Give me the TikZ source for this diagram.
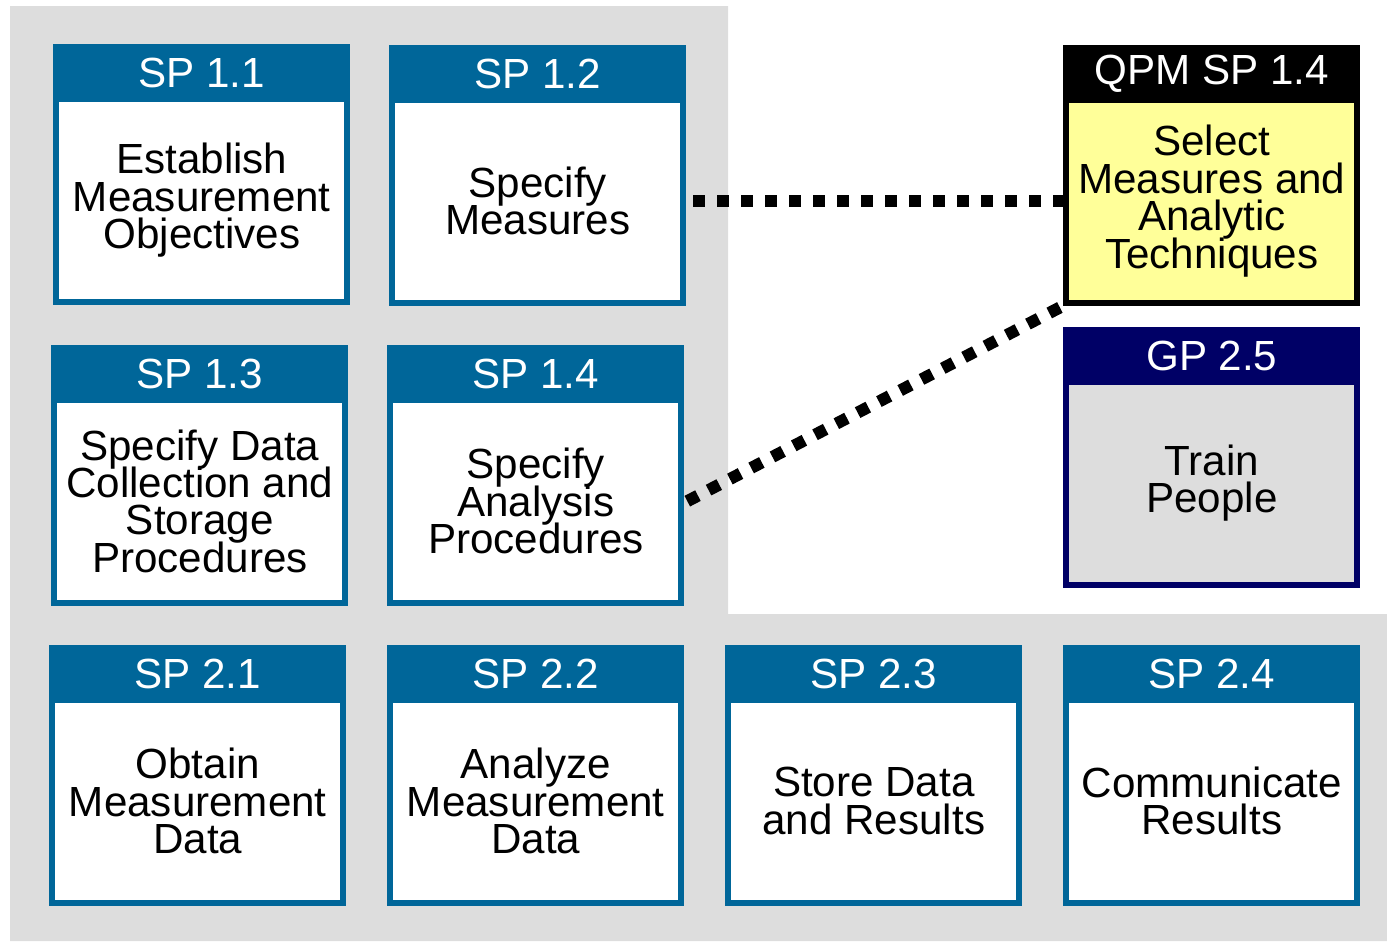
\documentclass[tikz,border=0pt]{standalone}
\usepackage{fontspec}
\setmainfont{Liberation Sans}
\usetikzlibrary{positioning,calc}
\definecolor{spblue}{RGB}{0,102,153}
\definecolor{gpnavy}{RGB}{0,0,102}
\definecolor{bggray}{RGB}{221,221,221}
\definecolor{qpmyellow}{RGB}{255,255,153}
\newcommand{\boxfont}{\fontsize{24}{21.3}\selectfont\lineskiplimit=-20pt\relax}
\tikzset{
	head/.style={anchor=north west, fill=#1, text=white, inner sep=0pt,
		minimum width=5.94cm, minimum height=1.14cm,
		font=\fontsize{24}{24}\selectfont},
	head/.default=spblue,
	body/.style={draw=#1, fill=white, line width=0.12cm, align=center, inner sep=0pt,
		minimum width=5.82cm, minimum height=4.06cm, font=\boxfont},
	body/.default=spblue,
	dotlink/.style={line width=0.24cm, dash pattern=on 0.24cm off 0.24cm}
}

\begin{document}
\begin{tikzpicture}[x=0.02cm, y=-0.02cm]
	\useasboundingbox (0,0) rectangle (1387,941);
	\fill[bggray] (10,6) -- (728,6) -- (728,614) -- (1387,614) -- (1387,941) -- (10,941) -- cycle;

	% SG 1
	\node[head] (h11) at (53,44) {SP 1.1};
	\node[body, below=-0.12cm of h11] (sp11) {Establish\\Measurement\\Objectives};
	\node[head] (h12) at (389,45) {SP 1.2};
	\node[body, below=-0.12cm of h12] (sp12) {Specify\\Measures};
	\node[head] (h13) at (51,345) {SP 1.3};
	\node[body, below=-0.12cm of h13] (sp13) {Specify Data\\Collection and\\Storage\\Procedures};
	\node[head] (h14) at (387,345) {SP 1.4};
	\node[body, below=-0.12cm of h14] (sp14) {Specify\\Analysis\\Procedures};

	% SG 2
	\node[head] (h21) at (49,645) {SP 2.1};
	\node[body, below=-0.12cm of h21] (sp21) {Obtain\\Measurement\\Data};
	\node[head] (h22) at (387,645) {SP 2.2};
	\node[body, below=-0.12cm of h22] (sp22) {Analyze\\Measurement\\Data};
	\node[head] (h23) at (725,645) {SP 2.3};
	\node[body, below=-0.12cm of h23] (sp23) {Store Data\\and Results};
	\node[head] (h24) at (1063,645) {SP 2.4};
	\node[body, below=-0.12cm of h24] (sp24) {Communicate\\Results};

	% related practices
	\node[head=black] (hqpm) at (1063,45) {QPM SP 1.4};
	\node[body=black, fill=qpmyellow, below=-0.12cm of hqpm] (qpm) {Select\\Measures and\\Analytic\\Techniques};
	\node[head=gpnavy] (hgp) at (1063,327) {GP 2.5};
	\node[body=gpnavy, fill=bggray, below=-0.12cm of hgp] (gp) {Train\\People};

	\draw[dotlink] ([xshift=0.14cm]sp12.east) -- (qpm.west);
	\draw[dotlink] ([xshift=0.06cm]sp14.east) -- (qpm.south west);
\end{tikzpicture}
\end{document}
